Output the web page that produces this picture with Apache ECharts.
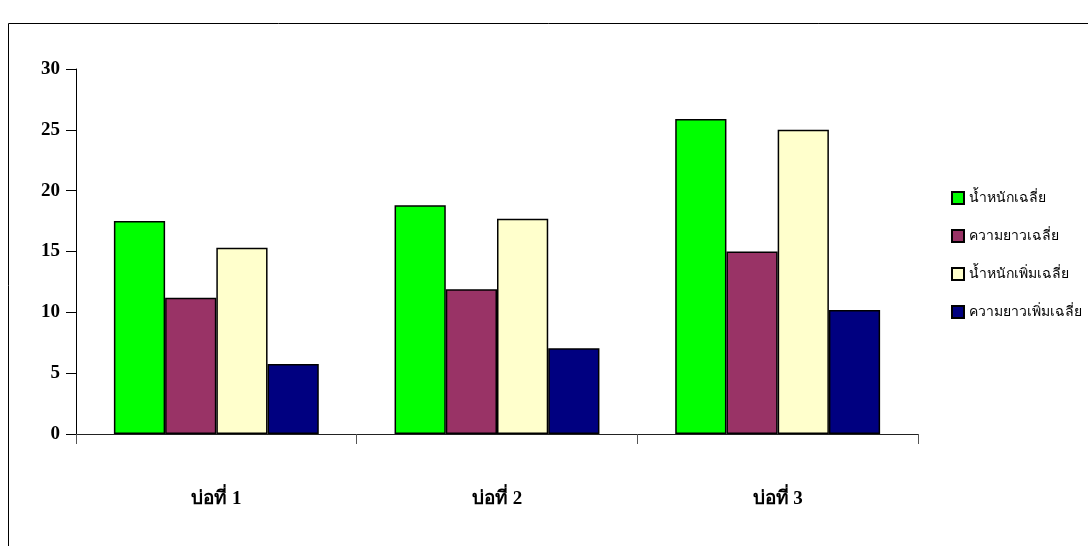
<!DOCTYPE html>
<html>
<head>
<meta charset="utf-8">
<script src="https://cdn.jsdelivr.net/npm/echarts@6/dist/echarts.min.js"></script>
<style>
  html, body { margin: 0; padding: 0; background: #fff; }
  #chart { width: 1088px; height: 546px; }
</style>
</head>
<body>
<div id="chart"></div>
<script>
// ponds
const categories = ['บ่อที่ 1', 'บ่อที่ 2', 'บ่อที่ 3'];

const seriesNames = ['น้ำหนักเฉลี่ย', 'ความยาวเฉลี่ย', 'น้ำหนักเพิ่มเฉลี่ย', 'ความยาวเพิ่มเฉลี่ย'];
const avgWeight = [17.5, 18.8, 25.9];
const avgLength = [11.2, 11.9, 15.0];
const avgWeightGain = [15.3, 17.7, 25.0];
const avgLengthGain = [5.75, 7.05, 10.2];

const colors = ['#00FF00', '#993366', '#FFFFCC', '#000080'];

const chart = echarts.init(document.getElementById('chart'));

const makeBar = (name, data) => ({
  name: name,
  type: 'bar',
  data: data,
  barGap: '0%',
  barCategoryGap: '27%',
  itemStyle: { borderColor: '#000', borderWidth: 1.5 }
});

const option = {
  animation: false,
  color: colors,
  textStyle: { fontFamily: "'Liberation Serif', serif" },
  graphic: [
    {
      type: 'rect',
      shape: { x: 8.5, y: 23.5, width: 1200, height: 600 },
      style: { fill: 'none', stroke: '#000', lineWidth: 1 },
      silent: true
    }
  ],
  grid: { left: 76, right: 170, top: 69, bottom: 112 },
  legend: {
    orient: 'vertical',
    left: 946,
    top: 186,
    itemGap: 24,
    itemWidth: 12,
    itemHeight: 12,
    icon: 'rect',
    textStyle: { color: '#000', fontSize: 14, fontFamily: "'Liberation Serif', serif" },
    data: seriesNames
  },
  xAxis: {
    type: 'category',
    data: categories,
    axisLine: { lineStyle: { color: '#222', width: 1 } },
    axisTick: { show: true, length: 10, lineStyle: { color: '#555' } },
    axisLabel: {
      margin: 56,
      color: '#000',
      fontSize: 19,
      fontWeight: 'bold',
      fontFamily: "'Liberation Serif', serif"
    }
  },
  yAxis: {
    type: 'value',
    min: 0,
    max: 30,
    interval: 5,
    splitLine: { show: false },
    axisLine: { show: true, lineStyle: { color: '#000', width: 1 } },
    axisTick: { show: true, length: 10, lineStyle: { color: '#000' } },
    axisLabel: {
      margin: 16,
      color: '#000',
      fontSize: 19,
      fontWeight: 'bold',
      fontFamily: "'Liberation Serif', serif"
    }
  },
  series: [
    makeBar(seriesNames[0], avgWeight),
    makeBar(seriesNames[1], avgLength),
    makeBar(seriesNames[2], avgWeightGain),
    makeBar(seriesNames[3], avgLengthGain)
  ]
};

option && chart.setOption(option);
</script>
</body>
</html>
